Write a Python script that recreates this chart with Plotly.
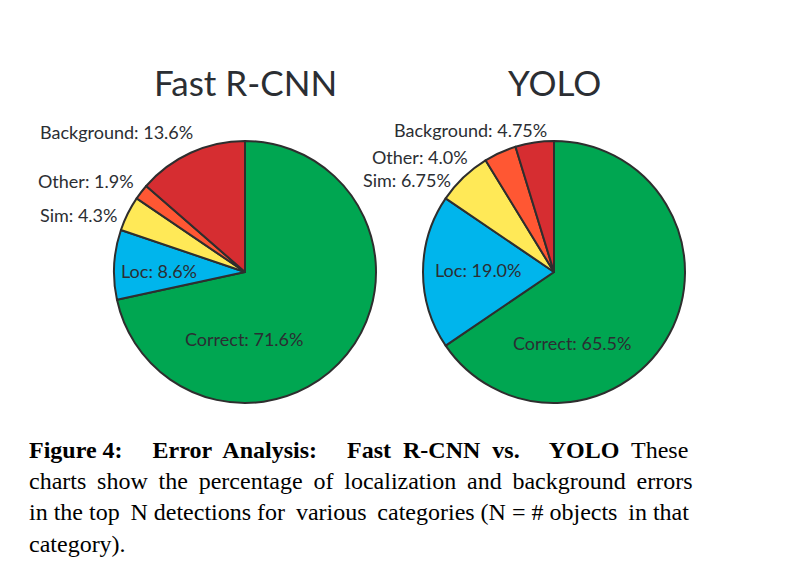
import math
import plotly.graph_objects as go

# slice order: starts at 12 o'clock, goes clockwise
categories = ["Correct", "Loc", "Sim", "Other", "Background"]
fast_rcnn_values = [71.6, 8.6, 4.3, 1.9, 13.6]
yolo_values = [65.5, 19.0, 6.75, 4.0, 4.75]
fast_rcnn_text = ["71.6%", "8.6%", "4.3%", "1.9%", "13.6%"]
yolo_text = ["65.5%", "19.0%", "6.75%", "4.0%", "4.75%"]

COLORS = ["#00A651", "#00B5EC", "#FFE957", "#FF5733", "#D62D31"]
TEXT = "#2B2E33"
FONT = "Lato, 'Open Sans', sans-serif"

W, H = 799, 576
R = 131  # pie radius in px

# label placement per slice: (radius fraction, xanchor, dx, dy) - pixels
FAST_LABELS = {
    "Correct": (0.5, "center", -52, 26),
    "Loc": (0.66, "center", 0, 4),
    "Sim": (1.0, "right", -9, 1),
    "Other": (1.0, "right", -5, -11),
    "Background": (1.0, "right", 4, -21),
}
YOLO_LABELS = {
    "Correct": (0.5, "center", -40, 40),
    "Loc": (0.58, "center", 0, -2),
    "Sim": (1.0, "right", -11, 3),
    "Other": (1.0, "right", -30, 4),
    "Background": (1.0, "right", 14, -12),
}


def pie_domain(cx, cy):
    return dict(
        x=[(cx - R) / W, (cx + R) / W],
        y=[1 - (cy + R) / H, 1 - (cy - R) / H],
    )


def make_pie(values, cx, cy):
    return go.Pie(
        labels=categories,
        values=values,
        textinfo="none",
        marker=dict(colors=COLORS, line=dict(color="#2E2E2E", width=2)),
        sort=False,
        direction="clockwise",
        rotation=0,
        domain=pie_domain(cx, cy),
        showlegend=False,
        hoverinfo="label+percent",
    )


def add_slice_labels(fig, values, pct_text, cx, cy, specs):
    total = sum(values)
    start = 0.0
    for cat, v, t in zip(categories, values, pct_text):
        mid = math.radians((start + v / 2) / total * 360)
        start += v
        frac, anchor, dx, dy = specs[cat]
        px = cx + R * frac * math.sin(mid) + dx
        py = cy - R * frac * math.cos(mid) + dy
        fig.add_annotation(
            x=px / W, y=1 - py / H, xref="paper", yref="paper",
            text=f"{cat}: {t}", showarrow=False,
            xanchor=anchor, yanchor="middle",
            font=dict(family=FONT, size=18, color=TEXT),
        )


fig = go.Figure()
fig.add_trace(make_pie(fast_rcnn_values, 245, 272))
fig.add_trace(make_pie(yolo_values, 554, 272))
add_slice_labels(fig, fast_rcnn_values, fast_rcnn_text, 245, 272, FAST_LABELS)
add_slice_labels(fig, yolo_values, yolo_text, 554, 272, YOLO_LABELS)

# chart titles
for x, txt in [(245, "Fast R-CNN"), (554, "YOLO")]:
    fig.add_annotation(
        x=x / W, y=1 - 82 / H, xref="paper", yref="paper",
        text=txt, showarrow=False,
        font=dict(family=FONT, size=35, color=TEXT),
        xanchor="center", yanchor="middle",
    )

# caption, padded with spaces to mimic the justified paragraph
ts = "\u2009"
line2 = "charts show the percentage of localization and background errors"
line3 = "in the top N detections for various categories (N = # objects in that"
caption = (
    "<b>Figure 4:     Error  Analysis:     Fast  R-CNN  vs.     YOLO</b>  These<br>"
    + line2.replace(" ", " " + ts) + "<br>"
    + line3.replace("top ", "top " + ts).replace("for ", "for " + ts)
    .replace("various ", "various " + ts).replace("objects ", "objects " + ts)
    + "<br>category)."
)
fig.add_annotation(
    x=27 / W, y=1 - 435 / H, xref="paper", yref="paper",
    text=caption, showarrow=False, align="left",
    xanchor="left", yanchor="top",
    font=dict(family="Liberation Serif, serif", size=24, color="#000000"),
)

fig.update_layout(
    width=W, height=H,
    margin=dict(l=0, r=0, t=0, b=0),
    paper_bgcolor="white",
    plot_bgcolor="white",
)

fig.write_html(
    "out.html",
    config={"displayModeBar": False},
    post_script="document.body.style.margin = '0px';",
)
